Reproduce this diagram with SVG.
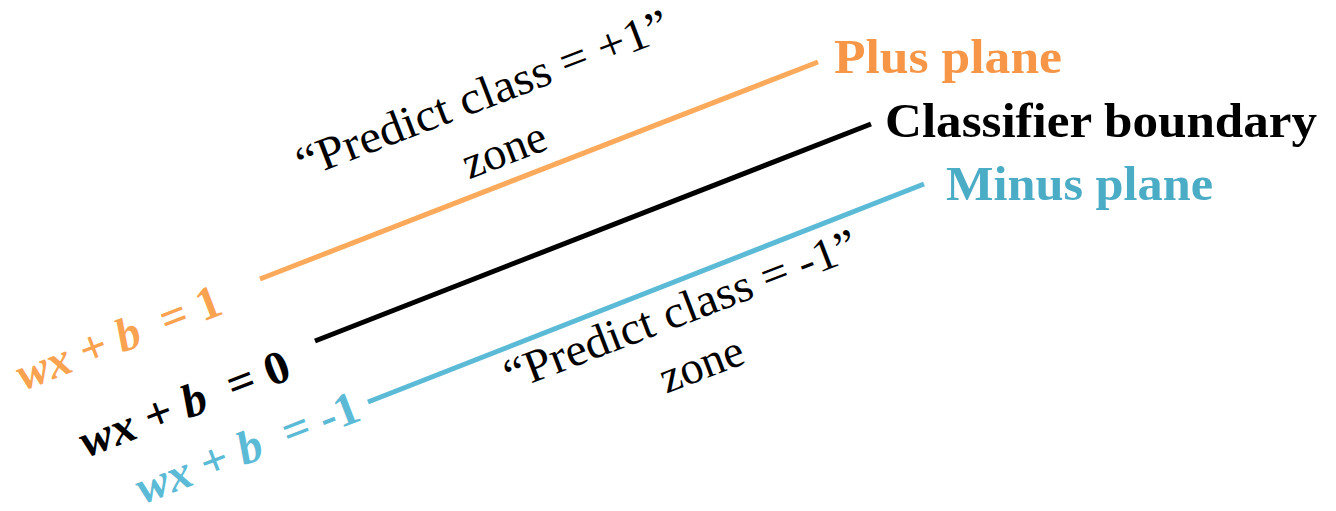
<svg xmlns="http://www.w3.org/2000/svg" width="1336" height="511" viewBox="0 0 1336 511">
<style>
.ln{stroke-width:5;stroke-linecap:butt;fill:none}
.lbl{font-family:"Liberation Serif","DejaVu Serif",serif;font-weight:bold;font-size:49px}
.eq{font-family:"Liberation Serif","DejaVu Serif",serif;font-weight:bold;font-size:47px;white-space:pre}
.eq .v{font-style:italic}
.zone{font-family:"Liberation Serif","DejaVu Serif",serif;font-size:46px;fill:#000}
</style>
<rect width="1336" height="511" fill="#fff"/>
<g id="connectors">
<line class="ln" x1="260" y1="279" x2="818" y2="62" stroke="#FBA95B"/>
<line class="ln" x1="315" y1="341" x2="871" y2="124" stroke="#000"/>
<line class="ln" x1="368" y1="402" x2="924" y2="184" stroke="#5BBAD5"/>
</g>
<g id="plus-plane">
<text class="lbl" x="834" y="73" fill="#F79646" textLength="228" lengthAdjust="spacingAndGlyphs">Plus plane</text>
<text class="eq" xml:space="preserve" transform="translate(124,352) rotate(-21)" text-anchor="middle" fill="#F9A24F" textLength="216" lengthAdjust="spacingAndGlyphs"><tspan class="v">wx</tspan> + <tspan class="v">b</tspan>  = 1</text>
</g>
<g id="boundary">
<text class="lbl" x="885" y="137" fill="#000" textLength="432" lengthAdjust="spacingAndGlyphs">Classifier boundary</text>
<text class="eq" xml:space="preserve" transform="translate(190,418) rotate(-21)" text-anchor="middle" fill="#000" textLength="222" lengthAdjust="spacingAndGlyphs"><tspan class="v">wx</tspan> + <tspan class="v">b</tspan>  = 0</text>
</g>
<g id="minus-plane">
<text class="lbl" x="946" y="200" fill="#4BACC6" textLength="267" lengthAdjust="spacingAndGlyphs">Minus plane</text>
<text class="eq" xml:space="preserve" transform="translate(253,462) rotate(-21)" text-anchor="middle" fill="#5BBAD5" textLength="236" lengthAdjust="spacingAndGlyphs"><tspan class="v">wx</tspan> + <tspan class="v">b</tspan>  = -1</text>
</g>
<g id="plus-zone">
<text class="zone" transform="translate(488,108) rotate(-21)" text-anchor="middle"><tspan x="0" y="0" textLength="396" lengthAdjust="spacingAndGlyphs">“Predict class = +1”</tspan><tspan x="0" y="60">zone</tspan></text>
</g>
<g id="minus-zone">
<text class="zone" transform="translate(686,324) rotate(-21)" text-anchor="middle"><tspan x="0" y="0" textLength="375" lengthAdjust="spacingAndGlyphs">“Predict class = -1”</tspan><tspan x="0" y="58">zone</tspan></text>
</g>
</svg>
